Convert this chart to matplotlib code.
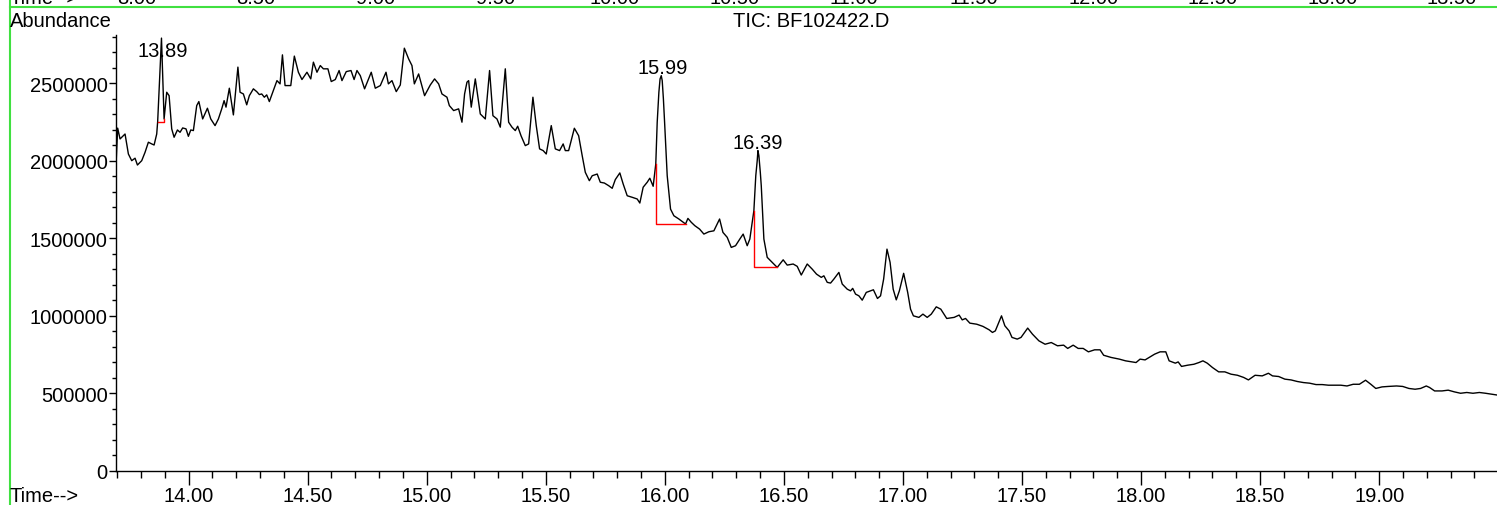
import numpy as np
import matplotlib.pyplot as plt
from matplotlib.lines import Line2D
from matplotlib.ticker import MultipleLocator, FormatStrFormatter
from matplotlib.transforms import blended_transform_factory

plt.rcParams['font.family'] = ['Liberation Sans', 'DejaVu Sans']
plt.rcParams['font.size'] = 14.5

# TIC trace: retention time (min) / abundance
time = np.array([
    13.695, 13.702, 13.712, 13.733, 13.747, 13.761, 13.775, 13.785, 13.803, 13.817,
    13.831, 13.845, 13.855, 13.866, 13.870, 13.886, 13.897, 13.908, 13.918, 13.929,
    13.939, 13.953, 13.964, 13.975, 13.989, 13.999, 14.009, 14.020, 14.034, 14.043,
    14.059, 14.079, 14.093, 14.111, 14.125, 14.139, 14.149, 14.157, 14.171, 14.188,
    14.207, 14.216, 14.230, 14.244, 14.255, 14.272, 14.286, 14.297, 14.307, 14.318,
    14.328, 14.339, 14.356, 14.371, 14.384, 14.394, 14.405, 14.429, 14.444, 14.461,
    14.476, 14.497, 14.513, 14.524, 14.539, 14.553, 14.566, 14.585, 14.599, 14.616,
    14.632, 14.644, 14.662, 14.682, 14.695, 14.707, 14.721, 14.739, 14.767, 14.784,
    14.805, 14.829, 14.839, 14.854, 14.872, 14.889, 14.906, 14.924, 14.938, 14.948,
    14.966, 14.991, 15.015, 15.033, 15.050, 15.064, 15.085, 15.095, 15.113, 15.134,
    15.148, 15.159, 15.169, 15.176, 15.187, 15.204, 15.225, 15.246, 15.264, 15.278,
    15.295, 15.309, 15.330, 15.344, 15.358, 15.372, 15.382, 15.396, 15.414, 15.428,
    15.446, 15.460, 15.474, 15.489, 15.502, 15.523, 15.540, 15.558, 15.573, 15.582,
    15.596, 15.620, 15.638, 15.653, 15.666, 15.683, 15.695, 15.716, 15.729, 15.746,
    15.764, 15.779, 15.792, 15.811, 15.825, 15.842, 15.863, 15.884, 15.895, 15.909,
    15.926, 15.937, 15.951, 15.962, 15.968, 15.975, 15.980, 15.985, 15.989, 15.994,
    15.999, 16.010, 16.024, 16.038, 16.059, 16.077, 16.087, 16.097, 16.111, 16.126,
    16.146, 16.164, 16.185, 16.206, 16.230, 16.244, 16.262, 16.279, 16.297, 16.315,
    16.329, 16.346, 16.357, 16.374, 16.382, 16.388, 16.391, 16.395, 16.401, 16.405,
    16.416, 16.430, 16.451, 16.472, 16.497, 16.514, 16.539, 16.556, 16.573, 16.598,
    16.619, 16.637, 16.657, 16.668, 16.682, 16.696, 16.710, 16.731, 16.745, 16.766,
    16.780, 16.789, 16.801, 16.815, 16.829, 16.846, 16.876, 16.893, 16.906, 16.919,
    16.933, 16.946, 16.959, 16.972, 16.985, 17.003, 17.020, 17.032, 17.044, 17.067,
    17.084, 17.102, 17.119, 17.140, 17.159, 17.184, 17.215, 17.236, 17.249, 17.263,
    17.281, 17.310, 17.336, 17.362, 17.376, 17.388, 17.414, 17.428, 17.446, 17.458,
    17.480, 17.496, 17.524, 17.544, 17.571, 17.597, 17.623, 17.649, 17.675, 17.692,
    17.715, 17.736, 17.757, 17.779, 17.805, 17.828, 17.843, 17.874, 17.909, 17.935,
    17.962, 17.979, 17.996, 18.017, 18.034, 18.057, 18.080, 18.104, 18.118, 18.144,
    18.156, 18.170, 18.196, 18.222, 18.243, 18.260, 18.278, 18.300, 18.326, 18.352,
    18.378, 18.405, 18.431, 18.451, 18.479, 18.509, 18.535, 18.552, 18.578, 18.604,
    18.630, 18.656, 18.682, 18.708, 18.735, 18.761, 18.787, 18.813, 18.839, 18.865,
    18.891, 18.917, 18.943, 18.965, 18.986, 19.012, 19.038, 19.073, 19.099, 19.125,
    19.151, 19.174, 19.198, 19.212, 19.233, 19.264, 19.290, 19.316, 19.342, 19.368,
    19.394, 19.421, 19.447, 19.473, 19.494])

abundance = np.array([
    1970000, 2210000, 2140000, 2172000, 2043000, 2000000, 2016000, 1972000, 2000000, 2054000,
    2119000, 2108000, 2101000, 2172000, 2252000, 2790000, 2269000, 2441000, 2419000, 2205000,
    2151000, 2198000, 2183000, 2211000, 2205000, 2157000, 2198000, 2194000, 2355000, 2381000,
    2269000, 2338000, 2269000, 2226000, 2269000, 2334000, 2387000, 2345000, 2467000, 2295000,
    2603000, 2441000, 2430000, 2360000, 2419000, 2463000, 2445000, 2426000, 2430000, 2409000,
    2424000, 2381000, 2452000, 2516000, 2495000, 2682000, 2484000, 2484000, 2674000, 2570000,
    2523000, 2570000, 2527000, 2635000, 2570000, 2613000, 2592000, 2592000, 2510000, 2523000,
    2581000, 2516000, 2574000, 2581000, 2523000, 2581000, 2548000, 2463000, 2570000, 2467000,
    2484000, 2570000, 2495000, 2516000, 2445000, 2488000, 2725000, 2656000, 2613000, 2495000,
    2559000, 2419000, 2488000, 2527000, 2495000, 2430000, 2409000, 2355000, 2323000, 2334000,
    2248000, 2430000, 2506000, 2516000, 2345000, 2527000, 2301000, 2269000, 2581000, 2290000,
    2269000, 2216000, 2592000, 2248000, 2216000, 2194000, 2222000, 2161000, 2097000, 2108000,
    2409000, 2226000, 2076000, 2065000, 2043000, 2226000, 2076000, 2065000, 2108000, 2065000,
    2065000, 2209000, 2161000, 2032000, 1925000, 1871000, 1903000, 1914000, 1861000, 1856000,
    1839000, 1822000, 1878000, 1921000, 1850000, 1774000, 1764000, 1753000, 1727000, 1829000,
    1861000, 1887000, 1835000, 1979000, 2248000, 2441000, 2527000, 2548000, 2516000, 2398000,
    2248000, 1903000, 1688000, 1645000, 1624000, 1603000, 1592000, 1628000, 1603000, 1581000,
    1559000, 1527000, 1542000, 1548000, 1624000, 1538000, 1506000, 1441000, 1452000, 1495000,
    1527000, 1452000, 1495000, 1678000, 1903000, 2000000, 2065000, 2032000, 1925000, 1839000,
    1495000, 1377000, 1345000, 1312000, 1361000, 1327000, 1334000, 1319000, 1263000, 1334000,
    1301000, 1269000, 1248000, 1258000, 1216000, 1211000, 1237000, 1280000, 1205000, 1172000,
    1161000, 1177000, 1140000, 1129000, 1101000, 1151000, 1168000, 1112000, 1129000, 1237000,
    1430000, 1345000, 1172000, 1103000, 1161000, 1274000, 1151000, 1043000, 1000000, 990000,
    1011000, 990000, 1011000, 1058000, 1043000, 983000, 990000, 1005000, 974000, 983000,
    953000, 946000, 932000, 910000, 893000, 903000, 1000000, 936000, 903000, 861000,
    850000, 861000, 921000, 882000, 839000, 817000, 828000, 807000, 811000, 790000,
    811000, 790000, 790000, 768000, 781000, 781000, 746000, 732000, 721000, 710000,
    703000, 699000, 721000, 716000, 732000, 753000, 768000, 768000, 710000, 695000,
    703000, 674000, 682000, 688000, 699000, 710000, 695000, 667000, 639000, 639000,
    624000, 617000, 603000, 587000, 617000, 613000, 630000, 613000, 609000, 592000,
    587000, 577000, 570000, 566000, 557000, 557000, 553000, 553000, 553000, 548000,
    559000, 559000, 585000, 559000, 532000, 542000, 545000, 548000, 545000, 532000,
    527000, 532000, 548000, 538000, 516000, 516000, 521000, 510000, 501000, 506000,
    501000, 506000, 501000, 495000, 490000])

# labelled peaks and their integration baselines (start, end, level)
peak_rt = [13.89, 15.99, 16.39]
peak_label = ['13.89', '15.99', '16.39']
base_start = [13.870, 15.962, 16.374]
base_end = [13.897, 16.087, 16.472]
base_level = [2252000, 1592000, 1312000]

# run above this one, only the bottom of its time axis shows
top_ticks = [8.00, 8.50, 9.00, 9.50, 10.00, 10.50, 11.00, 11.50, 12.00, 12.50, 13.00, 13.50]

W, H = 1497, 506
fig = plt.figure(figsize=(W / 100, H / 100), dpi=100)
left, right, bottom, top = 116 / W, 1.0, (H - 472) / H, (H - 36) / H
ax = fig.add_axes([left, bottom, right - left, top - bottom])

ax.plot(time, abundance, color='black', lw=1.0)

# red integration marks
for s, e, lvl in zip(base_start, base_end, base_level):
    ys = np.interp(s, time, abundance)
    ye = np.interp(e, time, abundance)
    ax.plot([s, s, e, e], [ys, lvl, lvl, ye], color='#ff0000', lw=1.0)

ax.set_xlim(13.695, 19.495)
ax.set_ylim(0, 2810000)
cap = ax.get_ylim()[1] * 0.945
for rt, lab in zip(peak_rt, peak_label):
    near = np.abs(time - rt) < 0.02
    apex = abundance[near].max()
    ax.annotate(lab, (rt, min(apex, cap)), xytext=(0, 2), textcoords='offset points',
                ha='center', va='baseline')

ax.xaxis.set_major_locator(MultipleLocator(0.5))
ax.xaxis.set_minor_locator(MultipleLocator(0.1))
ax.xaxis.set_major_formatter(FormatStrFormatter('%.2f'))
ax.yaxis.set_major_locator(MultipleLocator(500000))
ax.yaxis.set_minor_locator(MultipleLocator(100000))
ax.yaxis.set_major_formatter(FormatStrFormatter('%d'))
ax.tick_params(axis='x', which='major', length=10, width=1, pad=0.5)
ax.tick_params(axis='x', which='minor', length=5, width=1)
ax.tick_params(axis='y', which='major', length=5, width=1, pad=1)
ax.tick_params(axis='y', which='minor', length=3, width=1)
for sp in ['top', 'right']:
    ax.spines[sp].set_visible(False)
for sp in ['left', 'bottom']:
    ax.spines[sp].set_linewidth(1.0)

fig.text(10 / W, 1 - 27 / H, 'Abundance', va='baseline', ha='left')
fig.text(811 / W, 1 - 27 / H, 'TIC: BF102422.D', va='baseline', ha='center')
fig.text(10 / W, 4 / H, 'Time-->', va='baseline', ha='left')

# cut-off axis of the previous panel
ax_top = fig.add_axes([left, 1.0, right - left, 0.01])
ax_top.set_xlim(7.914, 13.688)
ax_top.axis('off')
tr = blended_transform_factory(ax_top.transData, fig.transFigure)
for v in top_ticks:
    ax_top.text(v, 1 - 3.5 / H, '%.2f' % v, transform=tr, ha='center', va='baseline', clip_on=False)
fig.text(10 / W, 1 - 3.5 / H, 'Time-->', va='baseline', ha='left')

# green panel frame
green = '#40e040'
fig.add_artist(Line2D([9.5 / W, 9.5 / W], [0, 1], color=green, lw=1.5, transform=fig.transFigure))
fig.add_artist(Line2D([9.5 / W, 1], [1 - 7.5 / H, 1 - 7.5 / H], color=green, lw=1.5,
                      transform=fig.transFigure))

fig.savefig('out.png', dpi=100)
